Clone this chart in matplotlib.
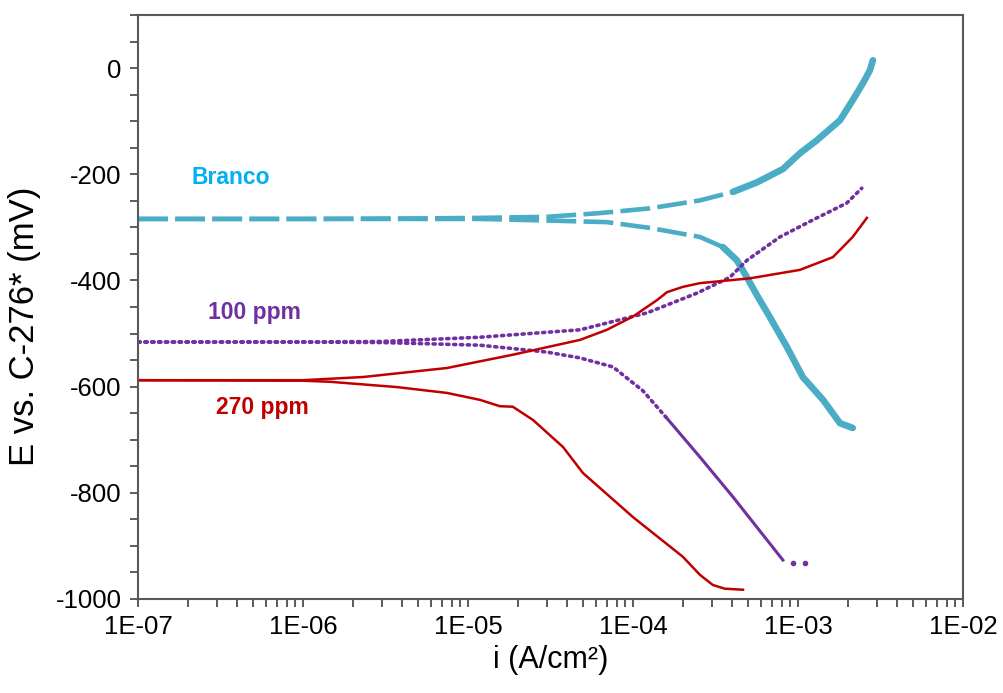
import numpy as np
import matplotlib
matplotlib.use("Agg")
import matplotlib.pyplot as plt
from matplotlib.ticker import MultipleLocator, LogLocator, FuncFormatter, NullFormatter

plt.rcParams['font.family'] = ['Liberation Sans', 'DejaVu Sans']
plt.rcParams['axes.unicode_minus'] = False

# Branco (blank) - anodic and cathodic branches
branco_an_i = [1e-7, 1e-6, 5e-6, 1.18e-5, 3.01e-5, 6.31e-5, 1.27e-4, 2.55e-4, 4.04e-4,
               5.65e-4, 8.11e-4, 1.03e-3, 1.30e-3, 1.80e-3, 2.15e-3, 2.48e-3, 2.73e-3, 2.85e-3]
branco_an_E = [-284, -284, -283, -282, -280, -273, -264, -249, -233,
               -215, -190, -160, -136, -98, -60, -28, -4, 15]
branco_ca_i = [1e-7, 1e-6, 5e-6, 1.18e-5, 3.01e-5, 6.95e-5, 1.27e-4, 2.55e-4, 3.51e-4,
               4.27e-4, 4.91e-4, 5.65e-4, 6.76e-4, 8.57e-4, 1.07e-3, 1.42e-3, 1.80e-3, 2.15e-3]
branco_ca_E = [-284, -284, -284, -284, -287, -290, -301, -318, -337,
               -362, -394, -428, -469, -525, -582, -625, -669, -678]

# 100 ppm
p100_an_i = [1e-7, 1e-6, 3e-6, 1.18e-5, 4.78e-5, 1.22e-4, 2.44e-4, 3.87e-4, 4.91e-4,
             7.78e-4, 1.23e-3, 1.98e-3, 2.44e-3]
p100_an_E = [-516, -516, -515, -507, -493, -461, -424, -394, -362,
             -318, -286, -254, -226]
p100_ca_i = [1e-7, 1e-6, 3e-6, 1.18e-5, 3.01e-5, 4.78e-5, 7.57e-5, 1.15e-4, 1.61e-4,
             2.55e-4, 4.04e-4, 6.49e-4, 8.11e-4]
p100_ca_E = [-516, -516, -517, -522, -535, -546, -563, -608, -660,
             -733, -808, -889, -927]
p100_tail_i = [9.3e-4, 1.1e-3]
p100_tail_E = [-932, -932]

# 270 ppm
p270_an_i = [1e-7, 1e-6, 2.31e-6, 7.46e-6, 1.87e-5, 4.78e-5, 6.95e-5, 1.0e-4, 1.40e-4,
             1.61e-4, 2.01e-4, 2.55e-4, 5.12e-4, 1.03e-3, 1.63e-3, 2.15e-3, 2.62e-3]
p270_an_E = [-588, -588, -582, -565, -540, -512, -493, -468, -437,
             -422, -412, -405, -396, -380, -356, -318, -282]
p270_ca_i = [1e-7, 1e-6, 1.46e-6, 3.72e-6, 7.46e-6, 1.18e-5, 1.56e-5, 1.87e-5, 2.48e-5,
             3.77e-5, 4.98e-5, 1.0e-4, 2.01e-4, 2.55e-4, 3.05e-4, 3.6e-4, 4.65e-4]
p270_ca_E = [-588, -589, -591, -601, -612, -625, -637, -638, -663,
             -714, -763, -846, -921, -955, -974, -981, -983]

c_branco = '#4BACC6'
c_100 = '#7030A0'
c_270 = '#C00000'

fig = plt.figure(figsize=(10.04, 6.93), dpi=100)
ax = fig.add_axes([0.1375, 0.136, 0.8215, 0.842])

def split(i, E, lim):
    i = np.array(i); E = np.array(E)
    k = np.searchsorted(i, lim)
    return (i[:k + 1], E[:k + 1]), (i[k:], E[k:])

# Branco: dashed flat part, thick solid steep part
for ii, EE, lim in [(branco_an_i, branco_an_E, 3.6e-4), (branco_ca_i, branco_ca_E, 2.6e-4)]:
    (fi, fE), (si, sE) = split(ii, EE, lim)
    ax.plot(fi, fE, color=c_branco, lw=3.3, ls=(0, (6.5, 1.6)), solid_capstyle='round')
    ax.plot(si, sE, color=c_branco, lw=4.8, solid_capstyle='round')

# 100 ppm: dotted
ax.plot(p100_an_i, p100_an_E, color=c_100, lw=2.6, ls=(0, (0.6, 1.3)), dash_capstyle='round')
(fi, fE), (si, sE) = split(p100_ca_i, p100_ca_E, 1.2e-4)
ax.plot(fi, fE, color=c_100, lw=2.6, ls=(0, (0.6, 1.3)), dash_capstyle='round')
ax.plot(si, sE, color=c_100, lw=2.2)
ax.plot(p100_tail_i, p100_tail_E, 'o', color=c_100, ms=3)

# 270 ppm: solid
ax.plot(p270_an_i, p270_an_E, color=c_270, lw=1.8)
ax.plot(p270_ca_i, p270_ca_E, color=c_270, lw=1.8)

ax.set_xscale('log')
ax.set_xlim(1e-7, 1e-2)
ax.set_ylim(-1000, 100)

ax.yaxis.set_minor_locator(MultipleLocator(50))
ax.set_yticks(np.arange(-1000, 1, 200))
ax.xaxis.set_major_locator(LogLocator(base=10, numticks=10))
ax.xaxis.set_minor_locator(LogLocator(base=10, subs=np.arange(2, 10), numticks=20))
ax.xaxis.set_major_formatter(FuncFormatter(lambda v, p: f"{v:.0E}"))
ax.xaxis.set_minor_formatter(NullFormatter())

ax.tick_params(which='both', direction='out', length=6, width=1.2, color='#404040')
ax.tick_params(axis='both', which='major', labelsize=18.5, pad=6)
for s in ax.spines.values():
    s.set_color('#595959')
    s.set_linewidth(1.5)

ax.set_xlabel('i (A/cm²)', fontsize=22, labelpad=4)
ax.set_ylabel('E vs. C-276* (mV)', fontsize=25)
ax.yaxis.set_label_coords(-0.118, 0.4675)

ax.text(3.66e-7, -205, 'Branco', color='#00B0F0', fontsize=16.5, fontweight='bold',
        ha='center', va='center')
ax.text(5.1e-7, -460, '100 ppm', color=c_100, fontsize=16.5, fontweight='bold',
        ha='center', va='center')
ax.text(5.7e-7, -640, '270 ppm', color=c_270, fontsize=16.5, fontweight='bold',
        ha='center', va='center')

fig.savefig('out.png', dpi=100)
